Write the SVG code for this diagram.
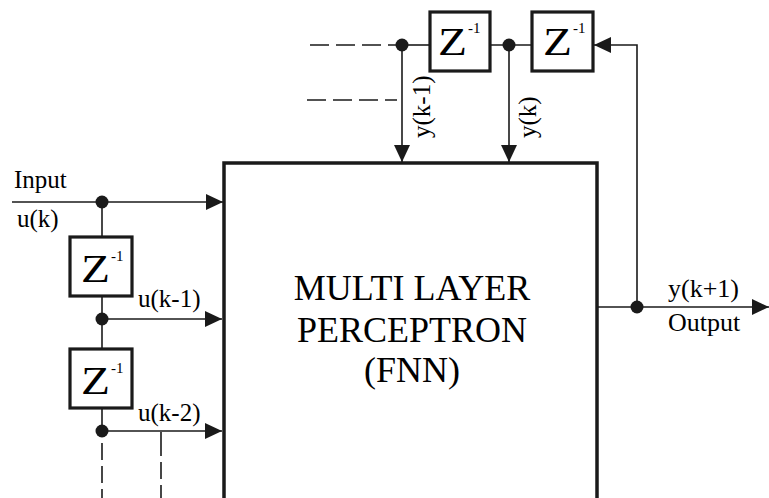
<svg xmlns="http://www.w3.org/2000/svg" width="769" height="498" viewBox="0 0 769 498">
<defs>
<marker id="ah" markerWidth="18" markerHeight="16" refX="17" refY="8" orient="auto" markerUnits="userSpaceOnUse">
<path d="M0,0 L17,8 L0,16 Z" fill="#1a1a1a"/>
</marker>
</defs>
<rect width="769" height="498" fill="#fff"/>

<g id="connectors" stroke="#1a1a1a" stroke-width="1.6" fill="none">
<line x1="12" y1="202" x2="223" y2="202" marker-end="url(#ah)"/>
<line x1="102" y1="202" x2="102" y2="237"/>
<line x1="102" y1="296" x2="102" y2="348"/>
<line x1="102" y1="319" x2="222" y2="319" marker-end="url(#ah)"/>
<line x1="102" y1="409" x2="102" y2="431"/>
<line x1="102" y1="431" x2="222" y2="431" marker-end="url(#ah)"/>
<line x1="102" y1="443" x2="102" y2="498" stroke-dasharray="17 6"/>
<line x1="161" y1="432" x2="161" y2="498" stroke-dasharray="24 6 17 6"/>
<line x1="310" y1="45" x2="398" y2="45" stroke-dasharray="19 7"/>
<line x1="307" y1="100" x2="397" y2="100" stroke-dasharray="19 7"/>
<line x1="402" y1="45" x2="430" y2="45"/>
<line x1="490" y1="45" x2="532" y2="45"/>
<line x1="402" y1="45" x2="402" y2="162" marker-end="url(#ah)"/>
<line x1="509" y1="45" x2="509" y2="162" marker-end="url(#ah)"/>
<polyline points="637,307 637,45 594,45" marker-end="url(#ah)"/>
<line x1="597" y1="307" x2="769" y2="307" marker-end="url(#ah)"/>
<g fill="#1a1a1a" stroke="none">
<circle cx="102" cy="202" r="6.5"/>
<circle cx="102" cy="319" r="6.5"/>
<circle cx="102" cy="431" r="6.5"/>
<circle cx="402" cy="45" r="6.5"/>
<circle cx="509" cy="45" r="6.5"/>
<circle cx="637" cy="307" r="6.5"/>
</g>
</g>

<g id="mlp">
<rect x="224" y="163" width="373" height="340" fill="#fff" stroke="#1a1a1a" stroke-width="3.5"/>
<text font-family="Liberation Serif" font-size="36" text-anchor="middle" x="412" y="300">MULTI LAYER</text>
<text font-family="Liberation Serif" font-size="36" text-anchor="middle" x="412" y="342">PERCEPTRON</text>
<text font-family="Liberation Serif" font-size="36" text-anchor="middle" x="412" y="382">(FNN)</text>
</g>

<g id="z-top1">
<rect x="430" y="12" width="60" height="59" fill="#fff" stroke="#1a1a1a" stroke-width="3.2"/>
<text font-family="Liberation Serif" font-size="39" x="438" y="55" textLength="29" lengthAdjust="spacingAndGlyphs">Z</text>
<text font-family="Liberation Serif" font-size="15" x="468" y="33">-1</text>
</g>
<g id="z-top2">
<rect x="532" y="12" width="61" height="59" fill="#fff" stroke="#1a1a1a" stroke-width="3.2"/>
<text font-family="Liberation Serif" font-size="39" x="543" y="55" textLength="29" lengthAdjust="spacingAndGlyphs">Z</text>
<text font-family="Liberation Serif" font-size="15" x="573" y="33">-1</text>
</g>
<g id="z-left1">
<rect x="70" y="237" width="62" height="59" fill="#fff" stroke="#1a1a1a" stroke-width="3.2"/>
<text font-family="Liberation Serif" font-size="39" x="81" y="282" textLength="29" lengthAdjust="spacingAndGlyphs">Z</text>
<text font-family="Liberation Serif" font-size="15" x="111" y="261">-1</text>
</g>
<g id="z-left2">
<rect x="70" y="349" width="62" height="59" fill="#fff" stroke="#1a1a1a" stroke-width="3.2"/>
<text font-family="Liberation Serif" font-size="39" x="81" y="394" textLength="29" lengthAdjust="spacingAndGlyphs">Z</text>
<text font-family="Liberation Serif" font-size="15" x="111" y="373">-1</text>
</g>

<g id="labels">
<text font-family="Liberation Serif" font-size="25" x="14" y="188">Input</text>
<text font-family="Liberation Serif" font-size="25" x="17" y="227">u(k)</text>
<text font-family="Liberation Serif" font-size="25" x="138" y="307">u(k-1)</text>
<text font-family="Liberation Serif" font-size="25" x="138" y="421">u(k-2)</text>
<text font-family="Liberation Serif" font-size="26" x="668" y="297">y(k+1)</text>
<text font-family="Liberation Serif" font-size="26" x="668" y="331">Output</text>
<text font-family="Liberation Serif" font-size="25" transform="translate(430,138) rotate(-90)">y(k-1)</text>
<text font-family="Liberation Serif" font-size="25" transform="translate(536,138) rotate(-90)">y(k)</text>
</g>
</svg>
